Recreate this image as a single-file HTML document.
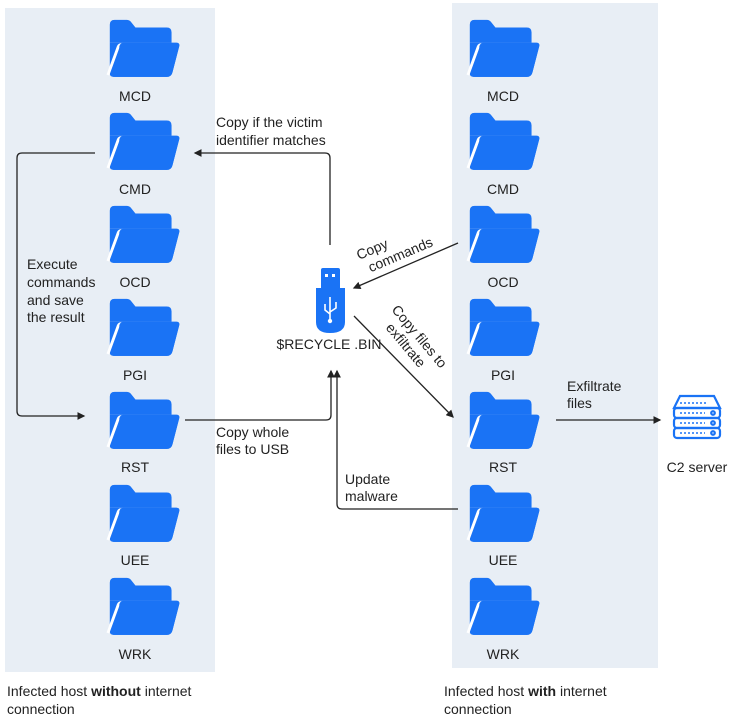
<!DOCTYPE html>
<html><head><style>
body{margin:0;background:#fff;}
svg{display:block;font-family:"Liberation Sans",sans-serif;}
</style></head><body>
<svg width="746" height="721" viewBox="0 0 746 721" xmlns="http://www.w3.org/2000/svg">
<defs>
<g id="f" transform="scale(0.95)">
<path d="M4 7 Q4 2 9 2 H22 Q25 2 27 5 L31 10 H64 Q69 10 69 15 V26 H4 Z" fill="#1a73f5"/>
<path d="M4 26 V58 Q4 62 8 62 H64 Q69 62 70 57 L77 30 Q78 26 74 26 Z" fill="#1a73f5"/>
<path d="M2 60 L13 30 Q14 28 17 28 H74" fill="none" stroke="#fff" stroke-width="3"/>
<path d="M14 32 L6 58 Q5 62 9 62 H64 Q69 62 70 57 L77 30 Q78 26 74 26 H18 Q15 26 14 30 Z" fill="#1a73f5"/>
</g>
<marker id="a" markerWidth="6" markerHeight="6" refX="5" refY="3" orient="auto"><path d="M0 0 L6 3 L0 6 Z" fill="#222"/></marker>
</defs>
<rect x="5" y="8" width="210" height="664" fill="#e8eef5"/>
<rect x="452" y="3" width="206" height="665" fill="#e8eef5"/>
<g font-size="14" fill="#222" text-anchor="middle">
<use href="#f" x="106" y="18"/><text x="135" y="101">MCD</text>
<use href="#f" x="106" y="111"/><text x="135" y="194">CMD</text>
<use href="#f" x="106" y="204"/><text x="135" y="287">OCD</text>
<use href="#f" x="106" y="297"/><text x="135" y="380">PGI</text>
<use href="#f" x="106" y="390"/><text x="135" y="472">RST</text>
<use href="#f" x="106" y="483"/><text x="135" y="565">UEE</text>
<use href="#f" x="106" y="576"/><text x="135" y="659">WRK</text>
<use href="#f" x="466" y="18"/><text x="503" y="101">MCD</text>
<use href="#f" x="466" y="111"/><text x="503" y="194">CMD</text>
<use href="#f" x="466" y="204"/><text x="503" y="287">OCD</text>
<use href="#f" x="466" y="297"/><text x="503" y="380">PGI</text>
<use href="#f" x="466" y="390"/><text x="503" y="472">RST</text>
<use href="#f" x="466" y="483"/><text x="503" y="565">UEE</text>
<use href="#f" x="466" y="576"/><text x="503" y="659">WRK</text>
<text x="329" y="349">$RECYCLE .BIN</text>
<text x="697" y="472">C2 server</text>
</g>
<rect x="321" y="268" width="19" height="24" rx="2" fill="#1a73f5"/>
<rect x="325" y="274" width="3" height="3" fill="#fff"/><rect x="332" y="274" width="3" height="3" fill="#fff"/>
<path d="M316 288 H345 V322 Q345 333 330 333 Q316 333 316 322 Z" fill="#1a73f5"/>
<path d="M330 297 V320 M325 304 V310 L330 314 M336 302 V308 L330 312" stroke="#fff" stroke-width="1.6" fill="none"/>
<circle cx="330" cy="321" r="2.2" fill="#fff"/>
<g fill="none" stroke="#1a73f5" stroke-width="2.2">
<path d="M674 408 L680 396 H714 L720 408 Z"/>
<rect x="674" y="408" width="46" height="10" rx="3"/>
<rect x="674" y="418" width="46" height="10" rx="3"/>
<rect x="674" y="428" width="46" height="10" rx="3"/>
<circle cx="713" cy="413" r="1.8"/><circle cx="713" cy="423" r="1.8"/><circle cx="713" cy="433" r="1.8"/>
<path d="M680 403 H708 M680 413 H705 M680 423 H705 M680 433 H705" stroke-width="1.5" stroke-dasharray="2 2"/>
</g>
<g fill="none" stroke="#222" stroke-width="1.3">
<path d="M330 245 V158 Q330 153 325 153 H195" marker-end="url(#a)"/>
<path d="M95 153 H22 Q17 153 17 158 V411 Q17 416 22 416 H84" marker-end="url(#a)"/>
<path d="M185 420 H326 Q331 420 331 415 V371" marker-end="url(#a)"/>
<path d="M458 509 H342 Q337 509 337 504 V371" marker-end="url(#a)"/>
<path d="M458 243 L354 288" marker-end="url(#a)"/>
<path d="M354 316 L453 417" marker-end="url(#a)"/>
<path d="M556 420 H660" marker-end="url(#a)"/>
</g>
<g font-size="14" fill="#222">
<text x="216" y="127">Copy if the victim</text>
<text x="216" y="145">identifier matches</text>
<text x="27" y="269">Execute</text>
<text x="27" y="287">commands</text>
<text x="27" y="305">and save</text>
<text x="27" y="322">the result</text>
<text x="216" y="437">Copy whole</text>
<text x="216" y="454">files to USB</text>
<text x="345" y="484">Update</text>
<text x="345" y="501">malware</text>
<text x="567" y="391">Exfiltrate</text>
<text x="567" y="408">files</text>
<g transform="translate(359,260) rotate(-23)"><text x="0" y="0">Copy</text><text x="6" y="16">commands</text></g>
<g transform="translate(391,310) rotate(50)"><text x="0" y="0">Copy files to</text><text x="10" y="16">exfiltrate</text></g>
<text x="7" y="696">Infected host <tspan font-weight="bold">without</tspan> internet</text>
<text x="7" y="714">connection</text>
<text x="444" y="696">Infected host <tspan font-weight="bold">with</tspan> internet</text>
<text x="444" y="714">connection</text>
</g>
</svg>
</body></html>
